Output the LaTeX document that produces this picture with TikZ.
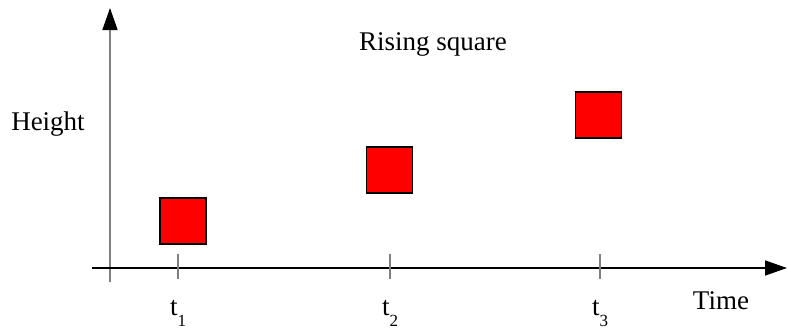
\documentclass[tikz,border=0pt]{standalone}
\usepackage{fontspec}
\setmainfont{Liberation Serif}
\usetikzlibrary{arrows.meta}
\begin{document}
\begin{tikzpicture}[x=1pt,y=-1pt,
  sq/.style={draw=black,fill=red,line width=1.5pt},
  tickline/.style={draw=gray,line width=1.5pt},
  lbl/.style={font=\fontsize{27}{31}\selectfont,inner sep=0pt},
  tip/.style={-{Triangle[length=22pt,width=15pt,color=black,fill=black]}}]
\useasboundingbox (0,0) rectangle (788,333);
\coordinate (ybot) at (110,282);
\coordinate (ytop) at (110,8);
\coordinate (xl) at (92,268);
\coordinate (xr) at (787,268);
\draw[gray,line width=1.5pt,tip] (ybot) -- (ytop);
\draw[black,line width=1.5pt,tip] (xl) -- (xr);
\foreach \n/\x in {1/178,2/390,3/600}{
  \coordinate (ta\n) at (\x,254);
  \coordinate (tb\n) at (\x,279);
  \draw[tickline] (ta\n) -- (tb\n);
  \node[lbl,anchor=base] (t\n) at (\x,315) {t\raisebox{-11pt}{\fontsize{17}{19}\selectfont\n}};
}
\node[sq,minimum size=46pt,inner sep=0pt] (s1) at (183,221) {};
\node[sq,minimum size=46pt,inner sep=0pt] (s2) at (389.5,170) {};
\node[sq,minimum size=46pt,inner sep=0pt] (s3) at (598.5,115) {};
\node[lbl,anchor=base] (time) at (721,309) {Time};
\node[lbl,anchor=base] (height) at (48,130) {Height};
\node[lbl,anchor=base] (title) at (433,50) {Rising square};
\end{tikzpicture}
\end{document}
